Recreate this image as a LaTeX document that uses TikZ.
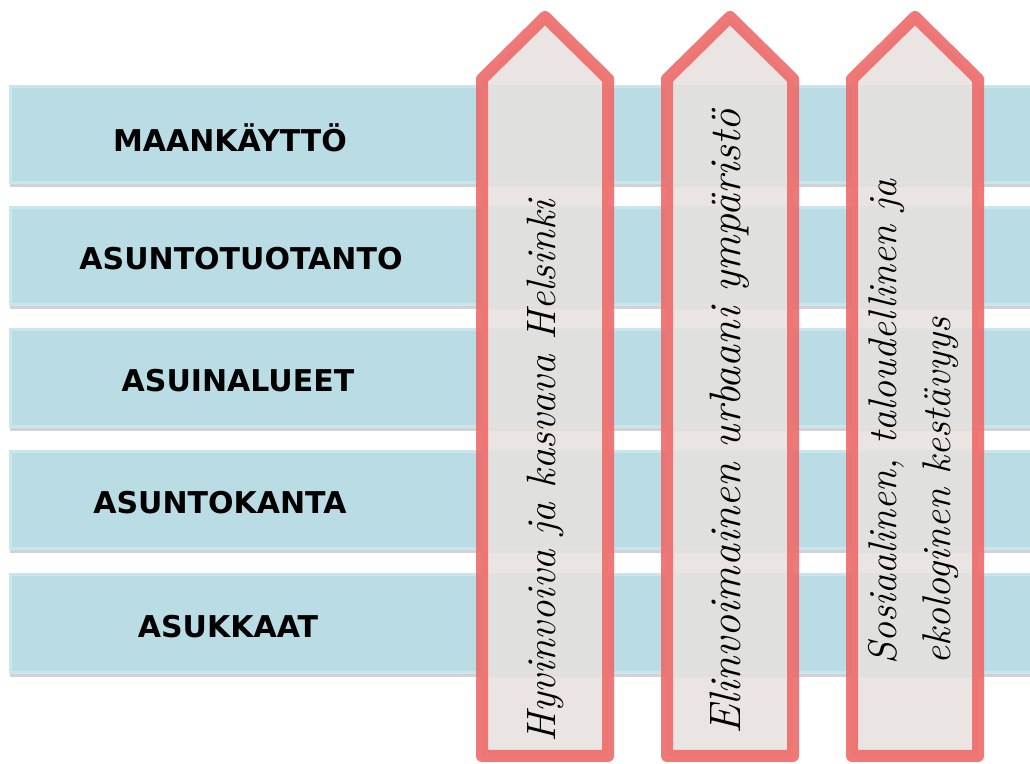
\documentclass[tikz,border=0pt]{standalone}
\usepackage{fontspec}
\newfontfamily\barfont{DejaVu Sans}
\usetikzlibrary{shadows}
\definecolor{barblue}{HTML}{B9DCE5}
\definecolor{baredge}{HTML}{C9E6EE}
\definecolor{pillarred}{HTML}{EE6A6A}
\definecolor{pillarfill}{HTML}{E7E1DD}
\tikzset{
  bar/.style={fill=barblue,draw=baredge,line width=1.5pt,
    drop shadow={shadow xshift=0pt,shadow yshift=-2pt,opacity=.35}},
  barlabel/.style={font=\barfont\bfseries\fontsize{15}{17}\selectfont},
  pillar/.style={draw=pillarred,line width=6pt,line join=round,
    fill=pillarfill,fill opacity=.85,draw opacity=.9},
  pillarlabel/.style={rotate=90,anchor=west,align=left,inner sep=1pt,
    font=\itshape\fontsize{20}{27}\selectfont}
}
\begin{document}
\begin{tikzpicture}[x=0.5pt,y=-0.5pt]
  \clip (0,0) rectangle (1030,764);
  \fill[white] (0,0) rectangle (1030,764);
  % horizontal bars
  \foreach \top/\bot in {87/183,208/305,330/427,452/549,575/673}
    \path[bar] (10,\top) rectangle (1045,\bot);
  \node[barlabel] (maa) at (230,138) {MAANKÄYTTÖ};
  \node[barlabel] (tuo) at (241,259) {ASUNTOTUOTANTO};
  \node[barlabel] (alu) at (238,381) {ASUINALUEET};
  \node[barlabel] (kan) at (220,503) {ASUNTOKANTA};
  \node[barlabel] (ask) at (228,627) {ASUKKAAT};
  % pillars
  \foreach \x in {545,730,915}
    \path[pillar] (\x-63,79) -- (\x,17) -- (\x+63,79) -- (\x+63,756)
      -- (\x-63,756) -- cycle;
  \node[pillarlabel,font=\itshape\fontsize{20.5}{27}\selectfont] (hyv) at (545,745) {Hyvinvoiva ja kasvava Helsinki};
  \node[pillarlabel,font=\itshape\fontsize{22}{27}\selectfont] (eli) at (730,737) {Elinvoimainen urbaani ympäristö};
  \node[pillarlabel] (sos) at (913,667) {Sosiaalinen, taloudellinen ja\\ekologinen kestävyys};
\end{tikzpicture}
\end{document}
